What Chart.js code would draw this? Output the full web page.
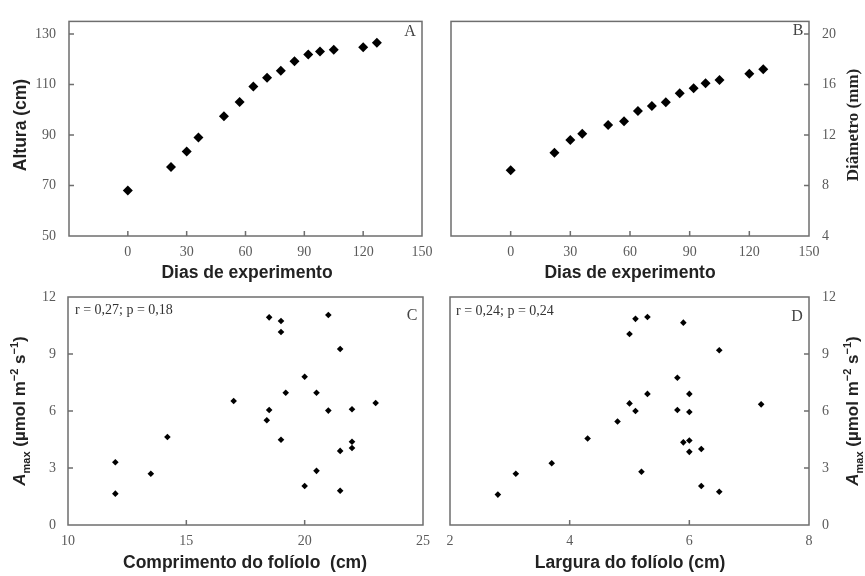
<!DOCTYPE html>
<html>
<head>
<meta charset="utf-8">
<script src="https://cdn.jsdelivr.net/npm/chart.js@4.4.1/dist/chart.umd.min.js"></script>
<style>
  body { margin: 0; background: #fff; }
  #wrap { position: relative; width: 865px; height: 576px; overflow: hidden; }
  canvas { position: absolute; left: 0; top: 0; }
  .t { position: absolute; font-family: 'Liberation Sans', Arial, sans-serif; font-weight: bold; font-size: 17.5px;
       color: #222; white-space: nowrap; transform: translate(-50%, -50%); }
  .serif { font-family: 'Liberation Serif', 'Times New Roman', serif; }
  .rot { transform: translate(-50%, -50%) rotate(-90deg); }
  .t sub, .t sup { font-size: 11px; }
  .lbl { position: absolute; font-family: 'Liberation Serif', 'Times New Roman', serif; font-size: 16px;
         color: #444; white-space: nowrap; transform: translate(-50%, -50%); }
  .note { position: absolute; font-family: 'Liberation Serif', 'Times New Roman', serif; font-size: 14px;
          color: #333; white-space: nowrap; transform: translate(0, -50%); }
</style>
</head>
<body>
<div id="wrap">
  <canvas id="cA" width="865" height="576"></canvas>
  <canvas id="cB" width="865" height="576"></canvas>
  <canvas id="cC" width="865" height="576"></canvas>
  <canvas id="cD" width="865" height="576"></canvas>

  <div class="t rot" style="left:20px; top:125px;">Altura (cm)</div>
  <div class="t" style="left:247px; top:272px;">Dias de experimento</div>
  <div class="t" style="left:630px; top:272px;">Dias de experimento</div>
  <div class="t serif rot" style="left:853px; top:125px; font-size:17px;">Diâmetro (mm)</div>

  <div class="t rot" style="left:20px; top:411px; font-size:17px;"><i>A</i><sub>max</sub> (µmol m<sup>−2</sup> s<sup>−1</sup>)</div>
  <div class="t rot" style="left:853px; top:411px; font-size:17px;"><i>A</i><sub>max</sub> (µmol m<sup>−2</sup> s<sup>−1</sup>)</div>
  <div class="t" style="left:245px; top:562px;">Comprimento do folíolo &nbsp;(cm)</div>
  <div class="t" style="left:630px; top:562px;">Largura do folíolo (cm)</div>

  <div class="lbl" style="left:410px; top:31px;">A</div>
  <div class="lbl" style="left:798px; top:30px;">B</div>
  <div class="lbl" style="left:412px; top:315px;">C</div>
  <div class="lbl" style="left:797px; top:316px;">D</div>
  <div class="note" style="left:75px; top:310px;">r = 0,27; p = 0,18</div>
  <div class="note" style="left:456px; top:311px;">r = 0,24; p = 0,24</div>
</div>

<script>
// Panels A and B: growth over the experiment
var days = [0, 22, 30, 36, 49, 57, 64, 71, 78, 85, 92, 98, 105, 120, 127];
var altura = [68, 77.3, 83.5, 89, 97.4, 103.1, 109.2, 112.7, 115.5, 119.2, 121.9, 123.1, 123.8, 124.8, 126.5];
var diametro = [9.2, 10.6, 11.6, 12.1, 12.8, 13.1, 13.9, 14.3, 14.6, 15.3, 15.7, 16.1, 16.35, 16.85, 17.2];

// Panel C: Amax vs leaflet length
var comprimento = [18.5, 19, 19, 21, 21.5, 20, 19.2, 20.5, 17, 23, 18.5, 21, 22, 18.4, 14.2, 19, 22, 22, 21.5, 12, 13.5, 20.5, 20, 21.5, 12];
var amaxC = [10.93, 10.74, 10.16, 11.05, 9.26, 7.8, 6.96, 6.96, 6.53, 6.42, 6.05, 6.02, 6.09, 5.51, 4.63, 4.49, 4.38, 4.05, 3.9, 3.3, 2.7, 2.85, 2.05, 1.8, 1.65];

// Panel D: Amax vs leaflet width
var largura = [5.1, 5.3, 5.9, 5.0, 6.5, 5.8, 5.3, 6.0, 5.0, 7.2, 5.1, 5.8, 6.0, 4.8, 4.3, 5.9, 6.0, 6.2, 6.0, 3.7, 3.1, 5.2, 6.2, 6.5, 2.8];
var amaxD = [10.85, 10.95, 10.65, 10.05, 9.2, 7.75, 6.9, 6.9, 6.4, 6.35, 6.0, 6.05, 5.95, 5.45, 4.55, 4.35, 4.45, 4.0, 3.85, 3.25, 2.7, 2.8, 2.05, 1.75, 1.6];

// tick values
var ticksDias = [0, 30, 60, 90, 120, 150];
var ticksAltura = [50, 70, 90, 110, 130];
var ticksDiametro = [4, 8, 12, 16, 20];
var ticksAmax = [0, 3, 6, 9, 12];
var ticksComprimento = [10, 15, 20, 25];
var ticksLargura = [2, 4, 6, 8];

var tickFont = { family: "'Liberation Serif', 'Times New Roman', serif", size: 14 };
var tickColor = '#5a5a5a';

// box round the plot area + short tick marks pointing inwards
var framePlugin = {
    id: 'frame',
    afterDraw: function (chart) {
        var a = chart.chartArea;
        var ctx = chart.ctx;
        var xs = chart.scales.x;
        var ys = chart.scales.y;
        ctx.save();
        ctx.strokeStyle = '#6e6e6e';
        ctx.lineWidth = 1.5;
        ctx.strokeRect(a.left, a.top, a.right - a.left, a.bottom - a.top);
        ctx.beginPath();
        xs.ticks.forEach(function (t) {
            var px = xs.getPixelForValue(t.value);
            if (px <= a.left + 1 || px >= a.right - 1) return;
            ctx.moveTo(px, a.bottom);
            ctx.lineTo(px, a.bottom - 5);
        });
        ys.ticks.forEach(function (t) {
            var py = ys.getPixelForValue(t.value);
            if (py <= a.top + 1 || py >= a.bottom - 1) return;
            if (ys.position === 'right') {
                ctx.moveTo(a.right, py);
                ctx.lineTo(a.right - 5, py);
            } else {
                ctx.moveTo(a.left, py);
                ctx.lineTo(a.left + 5, py);
            }
        });
        ctx.stroke();
        ctx.restore();
    }
};

function makeScale(position, min, max, tickValues, padding) {
    var horizontal = position === 'bottom';
    return {
        type: 'linear',
        position: position,
        min: min,
        max: max,
        afterBuildTicks: function (s) {
            s.ticks = tickValues.map(function (v) { return { value: v }; });
        },
        afterFit: function (s) {
            if (horizontal) s.height = 40; else s.width = 50;
        },
        grid: { display: false, drawTicks: false },
        border: { display: false },
        ticks: { padding: padding, color: tickColor, font: tickFont }
    };
}

function makePanel(id, xs, ys, radius, xScale, yScale, pad) {
    var pts = xs.map(function (v, i) { return { x: v, y: ys[i] }; });
    return new Chart(document.getElementById(id), {
        type: 'scatter',
        data: {
            datasets: [{
                data: pts,
                pointStyle: 'rectRot',
                pointRadius: radius,
                pointBackgroundColor: '#000',
                pointBorderWidth: 0
            }]
        },
        options: {
            responsive: false,
            animation: false,
            events: [],
            layout: { padding: pad },
            plugins: { legend: { display: false }, tooltip: { enabled: false } },
            scales: { x: xScale, y: yScale }
        },
        plugins: [framePlugin]
    });
}

// plot areas: A 69-422 x 13-236, B 451-809, C 68-423 x 297-525, D 450-809
makePanel('cA', days, altura, 5,
    makeScale('bottom', -30, 150, ticksDias, 8),
    makeScale('left', 50, 135, ticksAltura, 13),
    { left: 19, top: 13, right: 443, bottom: 300 });

makePanel('cB', days, diametro, 5,
    makeScale('bottom', -30, 150, ticksDias, 8),
    makeScale('right', 4, 21, ticksDiametro, 13),
    { left: 451, top: 13, right: 6, bottom: 300 });

makePanel('cC', comprimento, amaxC, 3.3,
    makeScale('bottom', 10, 25, ticksComprimento, 8),
    makeScale('left', 0, 12, ticksAmax, 12),
    { left: 18, top: 297, right: 442, bottom: 11 });

makePanel('cD', largura, amaxD, 3.3,
    makeScale('bottom', 2, 8, ticksLargura, 8),
    makeScale('right', 0, 12, ticksAmax, 13),
    { left: 450, top: 297, right: 6, bottom: 11 });
</script>
</body>
</html>
